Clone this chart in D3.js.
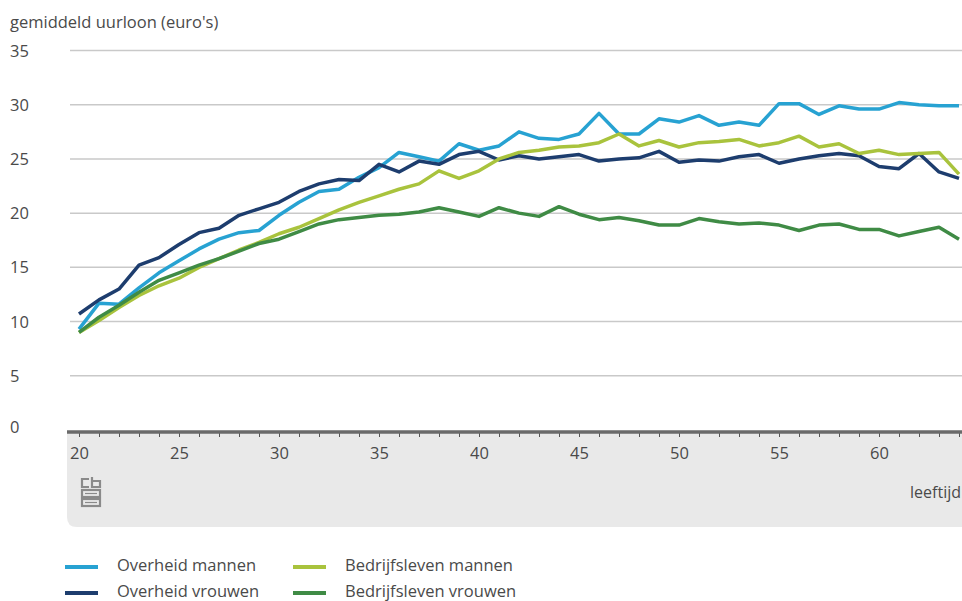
<!DOCTYPE html>
<html>
<head>
<meta charset="utf-8">
<script src="https://cdn.jsdelivr.net/npm/d3@7/dist/d3.min.js"></script>
<style>
  html, body { margin: 0; padding: 0; background: #fff; }
  svg { display: block; }
  text { font-family: "Open Sans", "Noto Sans", sans-serif; fill: #4a4a4a; }
</style>
</head>
<body>
<svg id="chart" width="962" height="601"></svg>
<script>
const ages = d3.range(20, 65);
const overheidMannen = [9.3, 11.7, 11.6, 13.1, 14.5, 15.6, 16.7, 17.6, 18.2, 18.4,
  19.8, 21.0, 22.0, 22.2, 23.3, 24.2, 25.6, 25.2, 24.8, 26.4,
  25.8, 26.2, 27.5, 26.9, 26.8, 27.3, 29.2, 27.3, 27.3, 28.7,
  28.4, 29.0, 28.1, 28.4, 28.1, 30.1, 30.1, 29.1, 29.9, 29.6,
  29.6, 30.2, 30.0, 29.9, 29.9];
const overheidVrouwen = [10.7, 12.0, 13.0, 15.2, 15.9, 17.1, 18.2, 18.6, 19.8, 20.4,
  21.0, 22.0, 22.7, 23.1, 23.0, 24.5, 23.8, 24.8, 24.5, 25.4,
  25.7, 24.9, 25.3, 25.0, 25.2, 25.4, 24.8, 25.0, 25.1, 25.7,
  24.7, 24.9, 24.8, 25.2, 25.4, 24.6, 25.0, 25.3, 25.5, 25.3,
  24.3, 24.1, 25.5, 23.8, 23.2];
const bedrijfslevenMannen = [9.0, 10.1, 11.3, 12.4, 13.3, 14.0, 15.0, 15.8, 16.6, 17.3,
  18.1, 18.7, 19.5, 20.3, 21.0, 21.6, 22.2, 22.7, 23.9, 23.2,
  23.9, 25.0, 25.6, 25.8, 26.1, 26.2, 26.5, 27.3, 26.2, 26.7,
  26.1, 26.5, 26.6, 26.8, 26.2, 26.5, 27.1, 26.1, 26.4, 25.5,
  25.8, 25.4, 25.5, 25.6, 23.6];
const bedrijfslevenVrouwen = [9.0, 10.4, 11.5, 12.7, 13.8, 14.5, 15.2, 15.8, 16.5, 17.2,
  17.6, 18.3, 19.0, 19.4, 19.6, 19.8, 19.9, 20.1, 20.5, 20.1,
  19.7, 20.5, 20.0, 19.7, 20.6, 19.9, 19.4, 19.6, 19.3, 18.9,
  18.9, 19.5, 19.2, 19.0, 19.1, 18.9, 18.4, 18.9, 19.0, 18.5,
  18.5, 17.9, 18.3, 18.7, 17.6];
const yTicks = [0, 5, 10, 15, 20, 25, 30, 35];
const xTickLabels = [20, 25, 30, 35, 40, 45, 50, 55, 60];
const seriesNames = ["Overheid mannen", "Overheid vrouwen", "Bedrijfsleven mannen", "Bedrijfsleven vrouwen"];
const seriesColors = ["#27a2d2", "#1d3d6e", "#a9c33d", "#3f8b45"];
const seriesValues = [overheidMannen, overheidVrouwen, bedrijfslevenMannen, bedrijfslevenVrouwen];

const svg = d3.select("#chart");
const x = d3.scaleLinear().domain([20, 64]).range([79, 959]);
const y = d3.scaleLinear().domain([0, 35]).range([430, 50.5]);

// title
svg.append("text").attr("x", 10).attr("y", 28).attr("font-size", 16.5).text("gemiddeld uurloon (euro's)");

// gray band under axis
svg.append("path")
  .attr("d", "M67,432 H962 V527 H77 Q67,527 67,517 Z")
  .attr("fill", "#e9e9e9");

// gridlines
svg.append("g").selectAll("line").data(yTicks.filter(d => d > 0)).join("line")
  .attr("x1", 70).attr("x2", 962)
  .attr("y1", d => y(d)).attr("y2", d => y(d))
  .attr("stroke", "#c9c9c9").attr("stroke-width", 1.5);

// y labels
svg.append("g").selectAll("text").data(yTicks).join("text")
  .attr("x", 10).attr("y", d => y(d) + (d === 0 ? 3 : 6))
  .attr("font-size", 16.5).text(d => d);

// x axis
const xAxis = d3.axisBottom(x)
  .tickValues(ages)
  .tickSize(5)
  .tickFormat(d => xTickLabels.includes(d) ? d : "");
const gx = svg.append("g").attr("transform", "translate(0,432)").call(xAxis);
gx.select(".domain").remove();
gx.selectAll(".tick line").attr("stroke", "#555").attr("stroke-width", 1);
gx.selectAll(".tick text").attr("font-size", 16.5).attr("fill", "#4a4a4a").attr("y", 12).attr("dy", "0.9em")
  .style("font-family", "'Open Sans', 'Noto Sans', sans-serif");
svg.append("line").attr("x1", 67).attr("x2", 962).attr("y1", 432).attr("y2", 432)
  .attr("stroke", "#6a6a6a").attr("stroke-width", 3.5);

svg.append("text").attr("x", 961).attr("y", 498).attr("text-anchor", "end")
  .attr("font-size", 16).attr("fill", "#3a3a3a").text("leeftijd");

// cbs logo
const logo = svg.append("g").attr("transform", "translate(81,477)").attr("fill", "none").attr("stroke", "#8a8a8a").attr("stroke-width", 2.2);
logo.append("path").attr("d", "M8,2 H1 V10 H8");
logo.append("path").attr("d", "M11,0 V10 H19 V4 H11");
logo.append("rect").attr("x", 1).attr("y", 13).attr("width", 18).attr("height", 7);
logo.append("rect").attr("x", 1).attr("y", 22).attr("width", 18).attr("height", 7);
logo.append("line").attr("x1", 4).attr("x2", 16).attr("y1", 16.5).attr("y2", 16.5).attr("stroke-width", 1.2);
logo.append("line").attr("x1", 4).attr("x2", 16).attr("y1", 25.5).attr("y2", 25.5).attr("stroke-width", 1.2);

// lines
const line = d3.line().x((d, i) => x(ages[i])).y(d => y(d));
svg.append("g").selectAll("path").data(seriesValues).join("path")
  .attr("d", d => line(d))
  .attr("fill", "none")
  .attr("stroke", (d, i) => seriesColors[i])
  .attr("stroke-width", 3.5)
  .attr("stroke-linejoin", "round");

// legend
const legendPos = [[65, 566], [65, 592], [293, 566], [293, 592]];
const lg = svg.append("g");
seriesNames.forEach((name, i) => {
  const [lx, ly] = legendPos[i];
  lg.append("line").attr("x1", lx).attr("x2", lx + 33).attr("y1", ly + 1).attr("y2", ly + 1)
    .attr("stroke", seriesColors[i]).attr("stroke-width", 4);
  lg.append("text").attr("x", lx + 52).attr("y", ly + 5).attr("font-size", 16.5).attr("fill", "#333").text(name);
});
</script>
</body>
</html>
